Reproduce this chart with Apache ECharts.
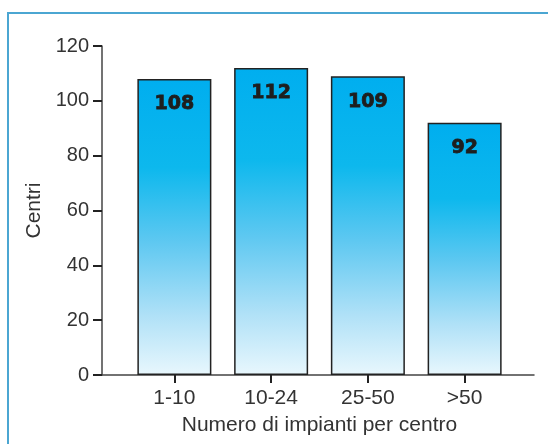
<!DOCTYPE html>
<html>
<head>
<meta charset="utf-8">
<script src="https://cdn.jsdelivr.net/npm/echarts@6/dist/echarts.min.js"></script>
<style>
html,body{margin:0;padding:0;background:#fff;}
#chart{width:548px;height:444px;}
</style>
</head>
<body>
<div id="chart"></div>
<script>
const categories = ['1-10', '10-24', '25-50', '>50'];
const centri = [108, 112, 109, 92];
const yTicks = [0, 20, 40, 60, 80, 100, 120];
const yTitle = 'Centri';
const xTitle = 'Numero di impianti per centro';

const chart = echarts.init(document.getElementById('chart'), null, {renderer: 'canvas'});
const font = 'Liberation Sans, Arial, sans-serif';
const barGradient = new echarts.graphic.LinearGradient(0, 0, 0, 1, [
  {offset: 0, color: '#00aeef'},
  {offset: 0.3, color: '#0db8ed'},
  {offset: 0.55, color: '#5ec8f1'},
  {offset: 0.8, color: '#b0e1f7'},
  {offset: 1, color: '#e8f7fd'}
]);

chart.setOption({
  animation: false,
  graphic: [{
    type: 'rect',
    shape: {x: 8, y: 13, width: 700, height: 600},
    style: {fill: 'none', stroke: '#4ba6d2', lineWidth: 2},
    z: 0
  }],
  grid: [
    {left: 102, right: 14, top: 46, bottom: 69},
    {left: 126, right: 35, top: 46, bottom: 69}
  ],
  xAxis: [
    {
      type: 'value', gridIndex: 0, min: 0, max: 1,
      axisLine: {show: true, lineStyle: {color: '#444', width: 1.5}},
      axisTick: {show: false}, axisLabel: {show: false}, splitLine: {show: false}
    },
    {
      type: 'category', gridIndex: 1, data: categories,
      axisLine: {show: false},
      axisTick: {show: true, alignWithLabel: true, length: 8, lineStyle: {color: '#222', width: 2}},
      axisLabel: {fontSize: 21, color: '#333', fontFamily: font, margin: 13},
      name: xTitle, nameLocation: 'middle', nameGap: 40,
      nameTextStyle: {fontSize: 21, color: '#333', fontFamily: font}
    }
  ],
  yAxis: [
    {
      type: 'value', gridIndex: 0, min: yTicks[0], max: yTicks[yTicks.length - 1], interval: 20,
      axisLine: {show: true, lineStyle: {color: '#444', width: 1.5}},
      axisTick: {show: true, length: 9, lineStyle: {color: '#222', width: 2}},
      axisLabel: {fontSize: 20, color: '#333', fontFamily: font, margin: 13},
      splitLine: {show: false},
      name: yTitle, nameLocation: 'middle', nameGap: 56,
      nameTextStyle: {fontSize: 21, color: '#333', fontFamily: font}
    },
    {
      type: 'value', gridIndex: 1, min: 0, max: 120, show: false
    }
  ],
  series: [{
    type: 'bar',
    xAxisIndex: 1, yAxisIndex: 1,
    data: centri,
    barWidth: 74,
    itemStyle: {color: barGradient, borderColor: '#222', borderWidth: 1.5},
    label: {
      show: true, position: 'insideTop', distance: 16,
      fontFamily: 'DejaVu Sans', fontWeight: 'bold', fontSize: 19, color: '#1e1e1e',
      textBorderColor: '#1e1e1e', textBorderWidth: 0.8
    }
  }]
});
</script>
</body>
</html>
